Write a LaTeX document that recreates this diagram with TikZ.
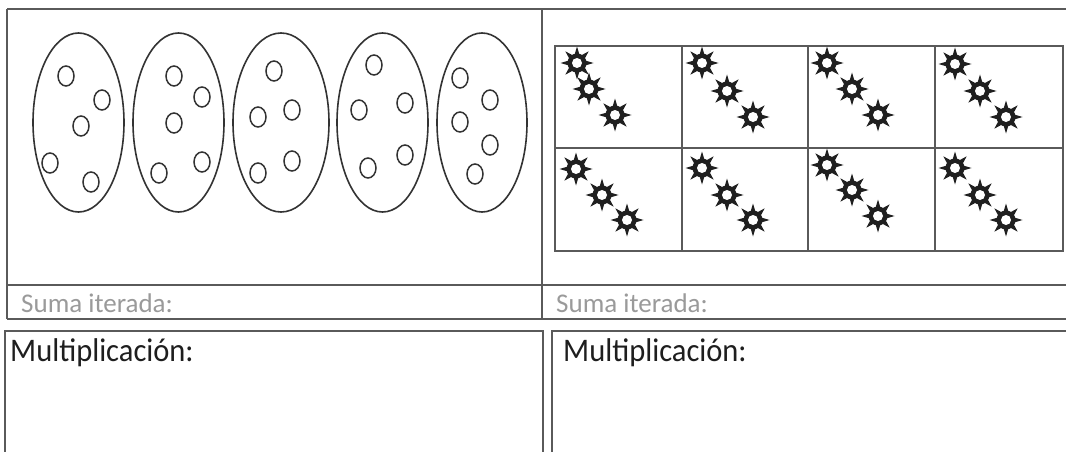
\documentclass[tikz,border=0pt]{standalone}
\usepackage{fontspec}
\setmainfont{Carlito}
\usetikzlibrary{shapes.geometric}
\definecolor{frame}{HTML}{5A5A5A}
\definecolor{ovalc}{HTML}{333333}
\definecolor{labelgray}{HTML}{9A9A9A}
\definecolor{textdark}{HTML}{1E1E1E}
\tikzset{
  framebox/.style={draw=frame,line width=2pt},
  gridline/.style={draw=frame,line width=2pt},
  bigoval/.style={draw=ovalc,line width=1.6pt},
  dot/.style={draw=ovalc,line width=1.5pt},
  sumlabel/.style={anchor=base west,inner sep=0pt,text=labelgray,font=\fontsize{27}{30}\selectfont},
  multlabel/.style={anchor=base west,inner sep=0pt,text=textdark,yscale=1.08,transform shape,font=\fontsize{30.5}{33}\selectfont},
  sunpic/.pic={
    \node[star,star points=8,star point ratio=2.2,fill=black!88,minimum size=33pt,inner sep=0pt]{};
    \fill[black!88] (0,0) circle (9.5);
    \fill[white] (0,0) circle (5);
  }
}
\begin{document}
\begin{tikzpicture}[x=1pt,y=-1pt]
\useasboundingbox (0,0) rectangle (1066,452);
\clip (0,0) rectangle (1066,452);
\fill[white] (0,0) rectangle (1066,452);
% top table
\draw[framebox] (7,9) -- (1080,9);
\draw[framebox] (7,9) -- (7,319);
\draw[framebox] (7,285) -- (1080,285);
\draw[framebox] (7,319) -- (1080,319);
\draw[framebox] (542,9) -- (542,319);
% bottom boxes
\draw[framebox] (5,470) -- (5,331) -- (543,331) -- (543,470);
\draw[framebox] (552,470) -- (552,331) -- (1080,331);
% labels
\node[sumlabel] (s1) at (21,312) {Suma iterada:};
\node[sumlabel] (s2) at (556,312) {Suma iterada:};
\node[multlabel] (m1) at (10,361) {Multiplicación:};
\node[multlabel] (m2) at (563,361) {Multiplicación:};
% ovals
\foreach \cx/\rx in {78.5/45.5,178.5/45.5,281/48,382.5/45.5,482/45}{
  \draw[bigoval] (\cx,122.5) ellipse [x radius=\rx,y radius=89.5];
}
\foreach \px/\py in {66/76,102/100,81/126,50/163,91/182,
                     174/76,202/97,174/123,159/173,202/162,
                     274/71,258/117,292/110,258/173,292/161,
                     374/65,359/110,405/103,368/168,405/155,
                     460/78,490/100,460/122,490/145,475/174}{
  \draw[dot] (\px,\py) ellipse [x radius=8,y radius=10];
}
% grid
\draw[gridline] (555,46) rectangle (1063,251);
\draw[gridline] (555,148) -- (1063,148);
\foreach \gx in {682,808,935}{\draw[gridline] (\gx,46) -- (\gx,251);}
% suns
\foreach \sx/\sy in {577/63,589/89,615/115, 702/63,727/91,753/117, 827/63,852/89,878/115, 955/64,980/91,1006/117,
                     576/169,602/195,627/220, 702/168,727/195,753/220, 827/165,852/190,878/216, 955/168,980/195,1006/220}{
  \pic at (\sx,\sy) {sunpic};
}
\end{tikzpicture}
\end{document}
